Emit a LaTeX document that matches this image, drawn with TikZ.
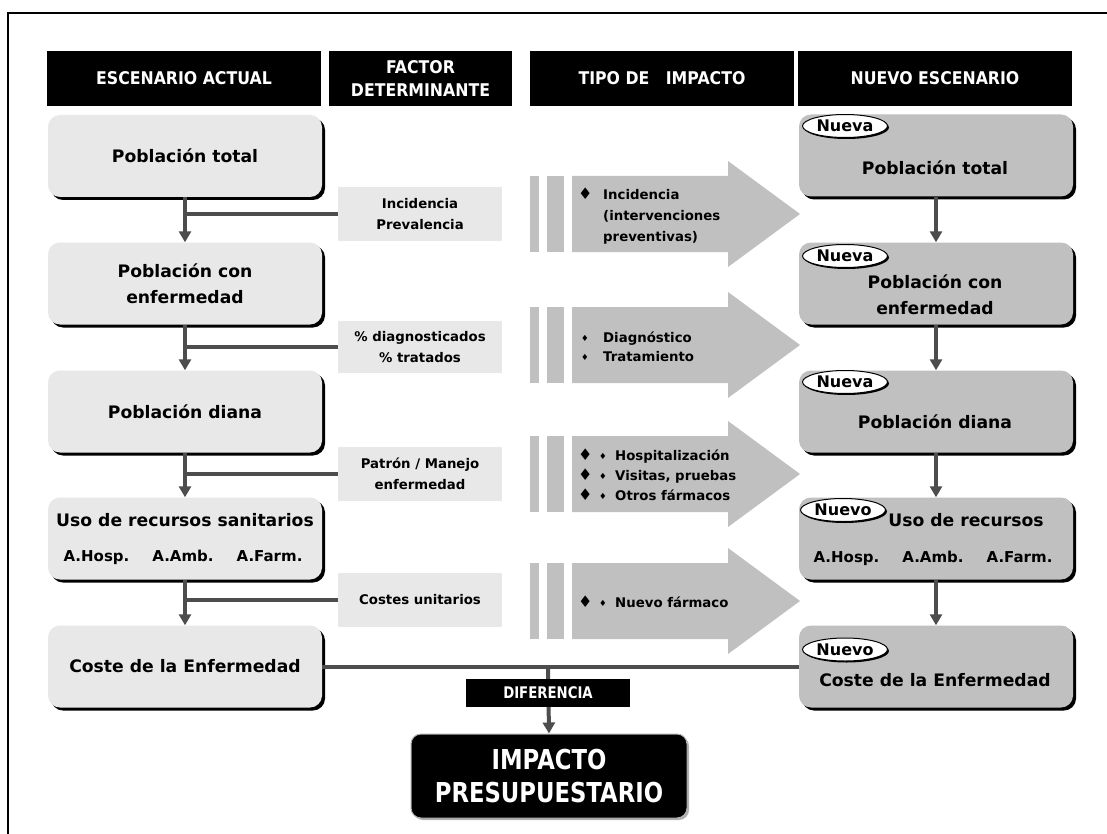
\documentclass[tikz,border=0pt]{standalone}
\usepackage{fontspec}
\setmainfont{DejaVu Sans}
\newfontfamily\hdrf{DejaVu Sans}[FakeStretch=0.9]
\newfontfamily\narf{DejaVu Sans}[FakeStretch=0.83]
\usetikzlibrary{arrows.meta,shapes.geometric,shadows}
\definecolor{lightbox}{HTML}{E8E8E8}
\definecolor{darkbox}{HTML}{C0C0C0}
\definecolor{linec}{HTML}{4D4D4D}
\definecolor{arrowc}{HTML}{C0C0C0}
\newcommand\bdia{\raisebox{-0.5pt}{\mdseries\fontsize{16}{16}\selectfont ♦}}
\newcommand\sdia{\raisebox{1pt}{\mdseries\fontsize{8.5}{8.5}\selectfont ♦}}
\newcommand\impArrow[1]{%
  \fill[arrowc] (530,#1-38) rectangle (539,#1+38);
  \fill[arrowc] (547,#1-38) rectangle (564,#1+38);
  \fill[arrowc] (572,#1-38) -- (728,#1-38) -- (728,#1-53) -- (800,#1) -- (728,#1+53) -- (728,#1+38) -- (572,#1+38) -- cycle;}
\begin{document}
\begin{tikzpicture}[x=1pt,y=-1pt,
  hdr/.style={fill=black,text=white,inner sep=0,minimum height=55pt,align=center,font=\hdrf\bfseries\fontsize{17.5}{23}\selectfont},
  oldbox/.style={rounded corners=12pt,fill=lightbox,minimum width=274pt,minimum height=82pt,inner sep=0,align=center,font=\bfseries\fontsize{17.2}{26}\selectfont,drop shadow={shadow xshift=3pt,shadow yshift=-3pt,fill=black,opacity=1}},
  newbox/.style={oldbox,fill=darkbox},
  txt/.style={inner sep=0,align=center,font=\bfseries\fontsize{17.2}{26}\selectfont},
  smalltxt/.style={inner sep=0,font=\bfseries\fontsize{15}{15}\selectfont},
  factor/.style={fill=lightbox,minimum width=164pt,inner sep=0,align=center,font=\bfseries\fontsize{13.3}{21}\selectfont},
  conn/.style={draw=linec,line width=4pt,-{Triangle[width=12pt,length=11pt]}},
  link/.style={draw=linec,line width=4pt},
  tag/.style={ellipse,draw=black,line width=1pt,fill=white,minimum width=85pt,minimum height=23pt,inner sep=0,font=\bfseries\fontsize{16}{16}\selectfont,drop shadow={shadow xshift=1.5pt,shadow yshift=-1.5pt,fill=black,opacity=1}},
  atxt/.style={anchor=west,inner sep=0,align=left,font=\bfseries\fontsize{13.3}{21}\selectfont},
  difbox/.style={fill=black,text=white,minimum width=164pt,minimum height=28pt,inner sep=0,font=\narf\bfseries\fontsize{16}{16}\selectfont},
  impbox/.style={rounded corners=10pt,fill=black,draw=gray!60,line width=1pt,text=white,minimum width=276pt,minimum height=84pt,inner sep=0,align=center,font=\narf\bfseries\fontsize{27.4}{33}\selectfont,drop shadow={shadow xshift=2pt,shadow yshift=-2pt,fill=gray!60,opacity=1}}
]
\useasboundingbox (0,0) rectangle (1107,834);
\fill[white] (0,0) rectangle (1107,834);
\draw[line width=2pt] (8,834) -- (8,13) -- (1107,13);

% headers
\node[hdr,minimum width=274pt] (h1) at (184,78.5) {ESCENARIO ACTUAL};
\node[hdr,minimum width=183pt] (h2) at (420.5,78.5) {FACTOR\\DETERMINANTE};
\node[hdr,minimum width=264pt] (h3) at (662,78.5) {TIPO DE\ \ \ IMPACTO};
\node[hdr,minimum width=274pt] (h4) at (935,78.5) {NUEVO ESCENARIO};

% impact arrows
\impArrow{214}
\impArrow{345}
\impArrow{474}
\impArrow{601}
\node[atxt] (a1t) at (578,216) {\makebox[25pt][l]{\bdia}Incidencia\\\hspace*{25pt}(intervenciones\\\hspace*{25pt}preventivas)};
\node[atxt,font=\bfseries\fontsize{13.3}{19}\selectfont] (a2t) at (581,347) {\makebox[22pt][l]{\sdia}Diagnóstico\\\makebox[22pt][l]{\sdia}Tratamiento};
\node[atxt,font=\bfseries\fontsize{13.3}{20}\selectfont] (a3t) at (578,475) {\makebox[21pt][l]{\bdia}\makebox[16pt][l]{\sdia}Hospitalización\\\makebox[21pt][l]{\bdia}\makebox[16pt][l]{\sdia}Visitas, pruebas\\\makebox[21pt][l]{\bdia}\makebox[16pt][l]{\sdia}Otros fármacos};
\node[atxt] (a4t) at (578,602) {\makebox[21pt][l]{\bdia}\makebox[16pt][l]{\sdia}Nuevo fármaco};

% factor boxes
\node[factor,minimum height=54pt] (f1) at (420,214) {Incidencia\\Prevalencia};
\node[factor,minimum height=52pt] (f2) at (420,347) {\% diagnosticados\\\% tratados};
\node[factor,minimum height=54pt] (f3) at (420,474) {Patrón / Manejo\\enfermedad};
\node[factor,minimum height=54pt] (f4) at (420,600) {Costes unitarios};

% left column
\node[oldbox] (l1) at (185,156) {Población total};
\node[oldbox] (l2) at (185,283.5) {Población con\\enfermedad};
\node[oldbox] (l3) at (185,411.5) {Población diana};
\node[oldbox] (l4) at (185,538.5) {};
\node[txt] (l4t) at (185,520) {Uso de recursos sanitarios};
\node[smalltxt] (l4s) at (183,557) {A.Hosp.\hspace*{23pt}A.Amb.\hspace*{23pt}A.Farm.};
\node[oldbox] (l5) at (185,666.5) {Coste de la Enfermedad};

% right column
\node[newbox] (r1) at (936,155.5) {};
\node[txt] (r1t) at (935,168) {Población total};
\node[tag] (r1n) at (845,126) {Nueva};
\node[newbox] (r2) at (936,283.5) {};
\node[txt] (r2t) at (935,294.5) {Población con\\enfermedad};
\node[tag] (r2n) at (845,256) {Nueva};
\node[newbox] (r3) at (936,411.5) {};
\node[txt] (r3t) at (935,422) {Población diana};
\node[tag] (r3n) at (845,382) {Nueva};
\node[newbox] (r4) at (936,538.5) {};
\node[txt] (r4t) at (966,520) {Uso de recursos};
\node[smalltxt] (r4s) at (933,558) {A.Hosp.\hspace*{23pt}A.Amb.\hspace*{23pt}A.Farm.};
\node[tag] (r4n) at (843,510) {Nuevo};
\node[newbox] (r5) at (936,666.5) {};
\node[txt] (r5t) at (935,680) {Coste de la Enfermedad};
\node[tag] (r5n) at (845,649.5) {Nuevo};

% left flow
\draw[conn] (l1.south) -- (l2.north);
\draw[conn] (l2.south) -- (l3.north);
\draw[conn] (l3.south) -- (l4.north);
\draw[conn] (l4.south) -- (l5.north);
\draw[link] (f1.west) -- (l1.south |- f1.west);
\draw[link] (f2.west) -- (l1.south |- f2.west);
\draw[link] (f3.west) -- (l1.south |- f3.west);
\draw[link] (f4.west) -- (l1.south |- f4.west);

% right flow
\draw[conn] (r1.south) -- (r2.north);
\draw[conn] (r2.south) -- (r3.north);
\draw[conn] (r3.south) -- (r4.north);
\draw[conn] (r4.south) -- (r5.north);

% bottom
\node[impbox] (imp) at (549,776) {IMPACTO\\PRESUPUESTARIO};
\draw[link] (l5.east) -- (r5.west);
\coordinate (dj) at (548,666.5);
\draw[conn] (dj) -- (imp.north);
\node[difbox] (dif) at (548,693) {DIFERENCIA};
\end{tikzpicture}
\end{document}
